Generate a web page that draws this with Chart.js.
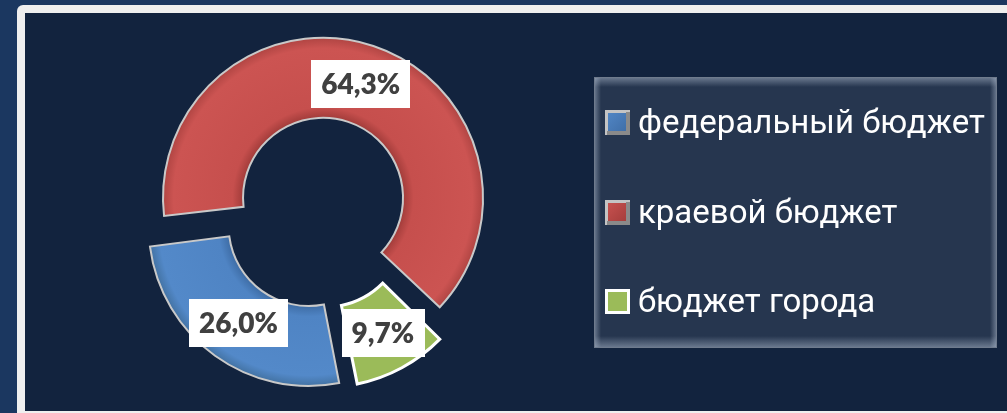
<!DOCTYPE html>
<html><head><meta charset="utf-8">
<script src="https://cdn.jsdelivr.net/npm/chart.js@4/dist/chart.umd.min.js"></script>
<style>
html,body{margin:0;padding:0;width:1007px;height:413px;overflow:hidden;background:#1b3760;}
#frame{position:absolute;left:17px;top:5px;width:1010px;height:420px;background:#efefef;border-radius:6px;}
#inner{position:absolute;left:25px;top:13px;width:1000px;height:398px;background:#12233e;}
#wrap{position:absolute;left:0;top:0;width:1007px;height:413px;}
</style></head><body>
<div id="frame"></div><div id="inner"></div>
<div id="wrap"><canvas id="c" width="1007" height="413"></canvas></div>
<script>
// ---- data ----
const categories = ['федеральный бюджет', 'краевой бюджет', 'бюджет города'];
const shares = [26.0, 64.3, 9.7];
const sliceColors = ['#4f84c4', '#c8504e', '#9bbb59'];

// ---- style helpers ----
const EXPLODE = 16;      // visual radial shift of each slice, px
const OUTER_R = 160;
const total = shares.reduce((a, b) => a + b, 0);
// Chart.js arc: shift = offset/4, radii grow by offset/4 * fix
const fixOf = v => 1 - Math.sin(Math.min(Math.PI, v / total * Math.PI * 2));
const offsets = shares.map(() => EXPLODE * 4);
const shades = [
  ['#3c6aa2', '#4f84c4', '#5389c9', '#41709f'],
  ['#9e3a38', '#c64f4d', '#cc5452', '#ad4341'],
  ['#9bbb59', '#9bbb59', '#9bbb59', '#9bbb59']
];
function sliceFill(ctx) {
  const chart = ctx.chart, i = ctx.dataIndex, a = chart.chartArea;
  if (!a || i === undefined) return sliceColors[i] || '#888';
  const cx = (a.left + a.right) / 2, cy = (a.top + a.bottom) / 2;
  const g = chart.ctx.createRadialGradient(cx, cy, OUTER_R * 0.5 - 1, cx, cy, OUTER_R + 1);
  const s = shades[i];
  g.addColorStop(0, s[0]);
  g.addColorStop(0.14, s[1]);
  g.addColorStop(0.86, s[2]);
  g.addColorStop(1, s[3]);
  return g;
}

// undo Chart.js growing an offset arc's radii so all rings keep the same size
const keepRadius = {
  id: 'keepRadius',
  afterDatasetUpdate(chart, args) {
    args.meta.data.forEach((arc, i) => {
      const d = offsets[i] / 4 * fixOf(shares[i]);
      arc.outerRadius -= d;
      arc.innerRadius -= d;
    });
  }
};

const fmt = v => v.toFixed(1).replace('.', ',') + '%';

const boxLabels = {
  id: 'boxLabels',
  afterDatasetsDraw(chart) {
    const ctx = chart.ctx;
    const meta = chart.getDatasetMeta(0);
    ctx.save();
    ctx.font = '800 28px Lato';
    ctx.textAlign = 'center';
    ctx.textBaseline = 'middle';
    meta.data.forEach((arc, i) => {
      const p = arc.getProps(['x', 'y', 'startAngle', 'endAngle', 'innerRadius', 'outerRadius'], true);
      const mid = (p.startAngle + p.endAngle) / 2;
      const r = (p.innerRadius + p.outerRadius) / 2 + offsets[i] / 4 * (1 + fixOf(shares[i]));
      const x = p.x + Math.cos(mid) * r;
      const y = p.y + Math.sin(mid) * r;
      const t = fmt(shares[i]);
      const w = ctx.measureText(t).width + 20, h = 48;
      ctx.fillStyle = '#ffffff';
      ctx.fillRect(Math.round(x - w / 2), Math.round(y - h / 2), Math.round(w), h);
      ctx.fillStyle = '#404040';
      ctx.fillText(t, x, y + 1);
    });
    ctx.restore();
  }
};

const legendBox = {
  id: 'legendBox',
  afterDraw(chart) {
    const ctx = chart.ctx;
    const bx = 594, by = 77, bw = 403, bh = 271;
    ctx.save();
    ctx.fillStyle = '#26364f';
    ctx.fillRect(bx, by, bw, bh);
    const band = (x0, y0, x1, y1, rx, ry, rw, rh) => {
      const g = ctx.createLinearGradient(x0, y0, x1, y1);
      g.addColorStop(0, 'rgba(170,183,202,0.55)');
      g.addColorStop(1, 'rgba(170,183,202,0)');
      ctx.fillStyle = g;
      ctx.fillRect(rx, ry, rw, rh);
    };
    band(0, by, 0, by + 10, bx, by, bw, 10);
    band(0, by + bh, 0, by + bh - 12, bx, by + bh - 12, bw, 12);
    band(bx, 0, bx + 7, 0, bx, by, 7, bh);
    band(bx + bw, 0, bx + bw - 7, 0, bx + bw - 7, by, 7, bh);
    ctx.strokeStyle = '#6f7b8d';
    ctx.lineWidth = 1;
    ctx.strokeRect(bx + 0.5, by + 0.5, bw - 1, bh - 1);

    ctx.font = '33px Roboto';
    ctx.textBaseline = 'alphabetic';
    categories.forEach((name, i) => {
      const base = 133 + i * 89.5;
      const mx = 605, my = Math.round(base - 23), ms = 25;
      if (i === 2) {
        ctx.fillStyle = '#ffffff';
        ctx.fillRect(mx, my, ms, ms);
        ctx.fillStyle = sliceColors[i];
        ctx.fillRect(mx + 3, my + 3, ms - 6, ms - 6);
      } else {
        ctx.fillStyle = '#c4c4c4';
        ctx.fillRect(mx, my, ms, ms);
        ctx.fillStyle = '#8a8a8a';
        ctx.fillRect(mx + 2, my + ms - 4, ms - 2, 4);
        ctx.fillRect(mx + ms - 4, my + 2, 4, ms - 2);
        const g = ctx.createLinearGradient(mx, my, mx + ms, my + ms);
        g.addColorStop(0, shades[i][2]);
        g.addColorStop(1, shades[i][0]);
        ctx.fillStyle = g;
        ctx.fillRect(mx + 3, my + 3, ms - 7, ms - 7);
      }
      ctx.fillStyle = '#ffffff';
      ctx.fillText(name, 638, base);
    });
    ctx.restore();
  }
};

new Chart(document.getElementById('c'), {
  type: 'doughnut',
  data: {
    labels: categories,
    datasets: [{
      data: shares,
      backgroundColor: sliceFill,
      borderColor: ['#c9c9c9', '#c9c9c9', '#ffffff'],
      borderWidth: [2, 2, 3],
      borderJoinStyle: 'miter',
      offset: offsets,
      hoverOffset: 0,
      clip: false
    }]
  },
  plugins: [keepRadius, boxLabels, legendBox],
  options: {
    responsive: false,
    animation: false,
    devicePixelRatio: 1,
    rotation: 169,
    radius: OUTER_R,
    cutout: '50%',
    layout: { padding: { left: 100, right: 471, top: 30, bottom: 17 } },
    plugins: { legend: { display: false }, tooltip: { enabled: false } },
    events: []
  }
});
</script>
</body></html>
